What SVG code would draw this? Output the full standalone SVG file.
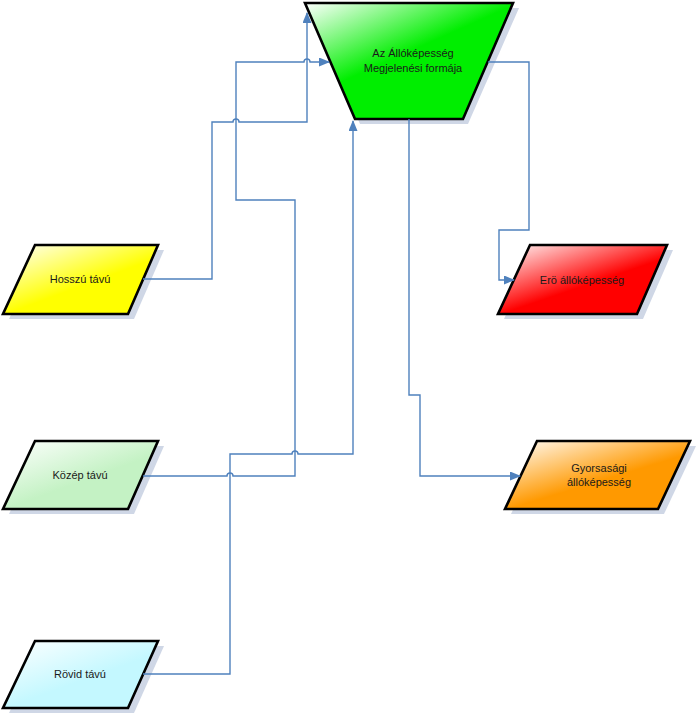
<svg xmlns="http://www.w3.org/2000/svg" width="700" height="719" viewBox="0 0 700 719">
<defs>
<style>
.shape{stroke:#000;stroke-width:2.6;stroke-linejoin:miter}
.shadow{fill:#cfd7e6;stroke:none}
.lbl{font-family:"Liberation Sans",Arial,sans-serif;font-size:11px;fill:#1a1a1a;text-anchor:middle}
.conn{fill:none;stroke:#4f81bd;stroke-width:1.4}
</style>
<linearGradient id="gY" x1="0" y1="0" x2="0.5" y2="0.6"><stop offset="0" stop-color="#ffffff"/><stop offset="1" stop-color="#ffff00"/></linearGradient>
<linearGradient id="gK" x1="0" y1="0" x2="0.5" y2="0.6"><stop offset="0" stop-color="#ffffff"/><stop offset="1" stop-color="#c4f2c4"/></linearGradient>
<linearGradient id="gR" x1="0" y1="0" x2="0.5" y2="0.6"><stop offset="0" stop-color="#ffffff"/><stop offset="1" stop-color="#c4f8ff"/></linearGradient>
<linearGradient id="gE" x1="0" y1="0" x2="0.5" y2="0.6"><stop offset="0" stop-color="#ffffff"/><stop offset="1" stop-color="#ff0000"/></linearGradient>
<linearGradient id="gO" x1="0" y1="0" x2="0.5" y2="0.6"><stop offset="0" stop-color="#ffffff"/><stop offset="1" stop-color="#ff9900"/></linearGradient>
<linearGradient id="gG" x1="0" y1="0" x2="0.4" y2="0.5"><stop offset="0" stop-color="#ffffff"/><stop offset="1" stop-color="#00ee00"/></linearGradient>
<marker id="arr" markerUnits="userSpaceOnUse" markerWidth="11" markerHeight="9" refX="10" refY="4.5" orient="auto" viewBox="0 0 11 9">
<path d="M0,0 L11,4.5 L0,9 z" fill="#4f81bd"/>
</marker>
</defs>

<g id="node-main">
<polygon class="shadow" points="310,8 519,8 468,124 360,124"/>
<polygon class="shape" fill="url(#gG)" points="305,3 513,3 463,119 355,119"/>
<text class="lbl" x="413" y="57">Az Állóképesség</text>
<text class="lbl" x="413" y="72">Megjelenési formája</text>
</g>

<g id="node-hosszu">
<polygon class="shadow" points="41,250 164,250 134,319 9,319"/>
<polygon class="shape" fill="url(#gY)" points="35,245 158,245 128,314 3,314"/>
<text class="lbl" x="80" y="283">Hosszú távú</text>
</g>

<g id="node-kozep">
<polygon class="shadow" points="41,446 164,446 134,514 9,514"/>
<polygon class="shape" fill="url(#gK)" points="35,441 158,441 128,509 3,509"/>
<text class="lbl" x="80" y="479">Közép távú</text>
</g>

<g id="node-rovid">
<polygon class="shadow" points="41,646 164,646 134,713 9,713"/>
<polygon class="shape" fill="url(#gR)" points="35,641 158,641 128,708 3,708"/>
<text class="lbl" x="80" y="678">Rövid távú</text>
</g>

<g id="node-ero">
<polygon class="shadow" points="536,250 673,250 643,319 504,319"/>
<polygon class="shape" fill="url(#gE)" points="530,245 667,245 637,314 498,314"/>
<text class="lbl" x="582" y="284">Erö állóképesség</text>
</g>

<g id="node-gyors">
<polygon class="shadow" points="543,446 696,446 664,514 511,514"/>
<polygon class="shape" fill="url(#gO)" points="537,441 690,441 658,509 505,509"/>
<text class="lbl" x="599" y="472">Gyorsasági</text>
<text class="lbl" x="599" y="486">állóképesség</text>
</g>

<g id="connectors">
<path class="conn" marker-end="url(#arr)" d="M143,279 H212 V122 H233 a3,3 0 0 1 6,0 H307 V13"/>
<path class="conn" marker-end="url(#arr)" d="M143,476 H227 a3,3 0 0 1 6,0 H295 V200 H236 V62 H304 a3,3 0 0 1 6,0 H329"/>
<path class="conn" marker-end="url(#arr)" d="M143,674 H230 V454 H292 a3,3 0 0 1 6,0 H353 V121"/>
<path class="conn" marker-end="url(#arr)" d="M488,62 H529 V230 H499 V280 H514"/>
<path class="conn" marker-end="url(#arr)" d="M409,119 V395 H420 V476 H520"/>
</g>
</svg>
